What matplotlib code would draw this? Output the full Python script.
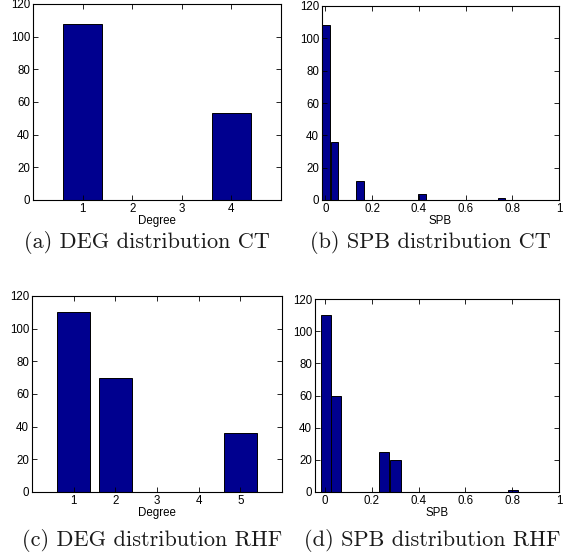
import matplotlib
matplotlib.use("Agg")
import matplotlib.pyplot as plt

# ---------------------------------------------------------------------------
# Data
# ---------------------------------------------------------------------------
deg_ct = [1, 2, 3, 4]
deg_ct_counts = [108, 0, 0, 53]

spb_ct = [0.002, 0.039, 0.148, 0.413, 0.754]
spb_ct_counts = [108, 36, 12, 4, 1]

deg_rhf = [1, 2, 3, 4, 5]
deg_rhf_counts = [110, 70, 0, 0, 36]

spb_rhf = [0.003, 0.048, 0.252, 0.301, 0.805]
spb_rhf_counts = [110, 60, 25, 20, 1]

captions = [
    "(a) DEG distribution CT",
    "(b) SPB distribution CT",
    "(c) DEG distribution RHF",
    "(d) SPB distribution RHF",
]

BAR_COLOR = "#00008f"
TICK_FONT = "Liberation Sans"
CAP_FONT = "cmr10"

W, H = 577, 557


def px_axes(fig, left, top, right, bottom):
    """Add axes given pixel box (origin top-left)."""
    return fig.add_axes([left / W, (H - bottom) / H, (right - left) / W, (bottom - top) / H])


def style(ax, xlabel):
    ax.set_ylim(0, 120)
    ax.set_yticks(range(0, 121, 20))
    ax.tick_params(direction="in", top=True, right=True, length=3.5, width=0.6,
                   labelsize=8.3, pad=2)
    for lab in ax.get_xticklabels() + ax.get_yticklabels():
        lab.set_fontfamily(TICK_FONT)
    ax.set_xlabel(xlabel, fontsize=8.3, family=TICK_FONT, labelpad=0)
    for sp in ax.spines.values():
        sp.set_linewidth(0.8)


fig = plt.figure(figsize=(W / 100, H / 100), dpi=100)

# ── (a) degree distribution CT ───────────────────────────────────────
ax = px_axes(fig, 33, 4, 281, 200)
ax.bar(deg_ct, deg_ct_counts, width=0.8, color=BAR_COLOR, edgecolor="black", linewidth=0.7)
ax.set_xlim(0, 5)
ax.set_xticks(deg_ct)
style(ax, "Degree")

# ── (b) SPB distribution CT ──────────────────────────────────────────
ax = px_axes(fig, 322, 6, 559, 200)
ax.bar(spb_ct, spb_ct_counts, width=0.033, color=BAR_COLOR, edgecolor="black", linewidth=0.7)
ax.set_xlim(-0.0145, 1)
ax.set_xticks([0, 0.2, 0.4, 0.6, 0.8, 1])
ax.set_xticklabels(["0", "0.2", "0.4", "0.6", "0.8", "1"])
style(ax, "SPB")

# ── (c) degree distribution RHF ──────────────────────────────────────
ax = px_axes(fig, 32, 296, 282, 492)
ax.bar(deg_rhf, deg_rhf_counts, width=0.8, color=BAR_COLOR, edgecolor="black", linewidth=0.7)
ax.set_xlim(0, 6)
ax.set_xticks(deg_rhf)
style(ax, "Degree")

# ── (d) SPB distribution RHF ─────────────────────────────────────────
ax = px_axes(fig, 315, 299, 559, 492)
ax.bar(spb_rhf, spb_rhf_counts, width=0.043, color=BAR_COLOR, edgecolor="black", linewidth=0.7)
ax.set_xlim(-0.043, 1)
ax.set_xticks([0, 0.2, 0.4, 0.6, 0.8, 1])
ax.set_xticklabels(["0", "0.2", "0.4", "0.6", "0.8", "1"])
style(ax, "SPB")

# captions
cap_pos = [(147, 243), (430, 243), (152, 540), (432, 540)]
for text, (cx, cy) in zip(captions, cap_pos):
    fig.text(cx / W, 1 - cy / H, text, ha="center", va="center",
             family=CAP_FONT, fontsize=16, color="#1a1a1a")

fig.savefig("out.png", dpi=100)
